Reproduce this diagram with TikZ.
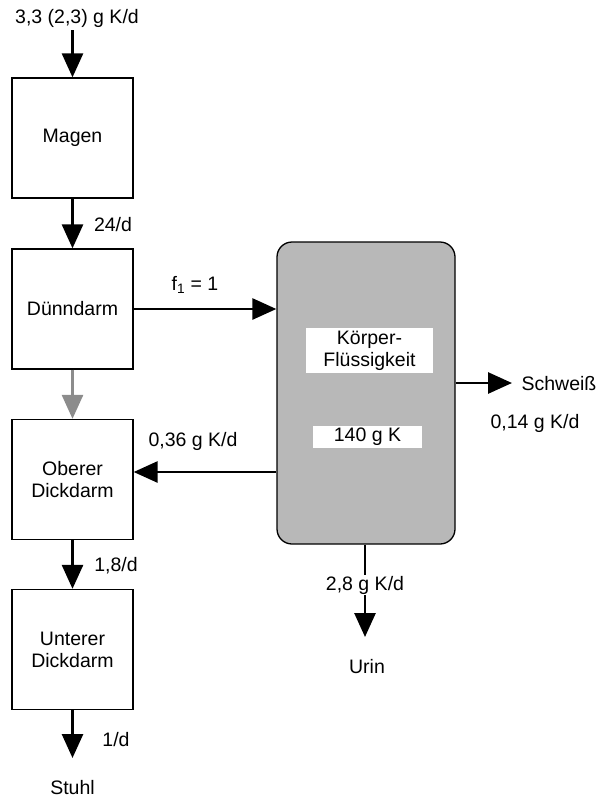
\documentclass[tikz,border=0pt]{standalone}
\usepackage{fontspec}
\setmainfont{Liberation Sans}
\usetikzlibrary{arrows.meta, positioning, calc}

\begin{document}
\begin{tikzpicture}[
			x=1pt, y=-1pt,
			font=\fontsize{19.5}{22}\selectfont,
			organ/.style={rectangle, draw=black, line width=1.3pt, minimum width=121pt, minimum height=120pt, inner sep=0pt, align=center},
			pool/.style={rectangle, draw=black, line width=1.3pt, rounded corners=15pt, minimum width=178pt, minimum height=302pt, fill=black!28},
			poollabel/.style={rectangle, fill=white, inner sep=0pt, align=center},
			arrow/.style={-{Triangle[length=24pt, width=21pt]}, line width=2.8pt, draw=black},
			grayarrow/.style={arrow, draw=black!45},
			rate/.style={inner sep=1pt}
			]
			\useasboundingbox (0,0) rectangle (599,798);
			
			% Compartments of the gut
			\node[organ] (magen) at (72.5,138) {Magen};
			\node[organ] (duenn) at (72.5,309) {Dünndarm};
			\node[organ] (ober) at (72.5,479.5) {Oberer\\Dickdarm};
			\node[organ] (unter) at (72.5,649.5) {Unterer\\Dickdarm};
			
			% Body fluid
			\node[pool] (koerper) at (366,393) {};
			\node[poollabel, minimum width=127pt, minimum height=45pt] (koerpername) at (369.5,350.5) {Körper-\\Flüssigkeit};
			\node[poollabel, minimum width=109pt, minimum height=22pt] (koerpermenge) at (367.5,437) {140 g K};
			
			% Free ends
			\coordinate (zufuhr) at (72.5,30);
			\coordinate (stuhlende) at (72.5,758);
			\coordinate (urinende) at (365,637);
			\coordinate (schweissende) at (512,383);
			
			% Arrows
			\draw[arrow] (zufuhr) -- (magen.north);
			\draw[arrow] (magen) -- (duenn);
			\draw[grayarrow] (duenn) -- (ober);
			\draw[arrow] (ober) -- (unter);
			\draw[arrow] (unter) -- (stuhlende);
			\draw[arrow] (duenn.east) -- (duenn.east -| koerper.west);
			\draw[arrow] (koerper.west |- 0,472) -- (ober.east |- 0,472);
			\draw[arrow] (koerper.south -| urinende) -- (urinende);
			\draw[arrow] (koerper.east |- schweissende) -- (schweissende);
			
			% Labels
			\node[rate] (zufuhrtext) at (77,18) {3,3 (2,3) g K/d};
			\node[rate] (magenrate) at (113,225) {24/d};
			\node[rate] (resorption) at (195,285) {f\textsubscript{1} = 1};
			\node[rate] (sekretion) at (193,441) {0,36 g K/d};
			\node[rate] (oberrate) at (116,566) {1,8/d};
			\node[rate] (unterrate) at (116,740) {1/d};
			\node[rate] (stuhl) at (72.5,788) {Stuhl};
			\node[rate, fill=white] (urinrate) at (365,585) {2,8 g K/d};
			\node[rate] (urin) at (367,667) {Urin};
			\node[rate] (schweiss) at (559,384) {Schweiß};
			\node[rate] (schweissrate) at (535,423) {0,14 g K/d};
			
		\end{tikzpicture}
\end{document}
